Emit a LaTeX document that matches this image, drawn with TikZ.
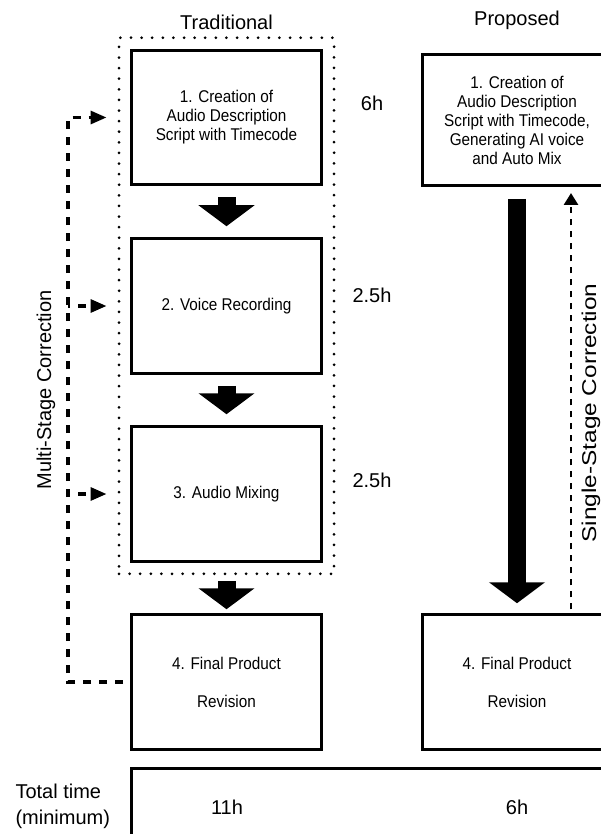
\documentclass[tikz,border=0pt]{standalone}
\usepackage{fontspec}
\setmainfont{Liberation Sans}
\newfontfamily\condfont[FakeStretch=0.9]{Liberation Sans}
\usetikzlibrary{arrows.meta,fit}

\begin{document}
\begin{tikzpicture}[x=1pt, y=-1pt,
    stagebox/.style={draw, line width=3pt, minimum width=190pt,
          minimum height=134.5pt, inner sep=0pt, align=center,
          font=\condfont\fontsize{17}{19}\selectfont},
    label/.style={font=\fontsize{20}{26}\selectfont},
    dotframe/.style={draw, line width=3pt, line cap=round,
          dash pattern=on 0pt off 10.6pt, inner sep=11pt},
    blockarrow/.style={line width=18pt, -{Triangle[length=21pt,width=55pt]}},
    corr/.style={line width=3.2pt, dash pattern=on 8pt off 8pt,
          -{Triangle[length=16pt,width=13pt]}},
    corrsingle/.style={line width=2.8pt, dash pattern=on 6pt off 6pt,
          -{Triangle[length=12pt,width=14pt]}}]
    \useasboundingbox (0,0) rectangle (601,834);

    % column titles
    \node[label] (trad title) at (226.5,22) {Traditional};
    \node[label] (prop title) at (517,20) {Proposed};

    % traditional workflow
    \node[stagebox] (t1) at (226.5,117.5) {1. Creation of\\Audio Description\\Script with Timecode};
    \node[stagebox] (t2) at (226.5,306) {2. Voice Recording};
    \node[stagebox] (t3) at (226.5,494) {3. Audio Mixing};
    \node[stagebox] (t4) at (226.5,682) {4. Final Product\\[19pt]Revision};
    \node[dotframe, fit=(t1)(t3)] (trad) {};

    \node[label] (time1) at (372,103) {6h};
    \node[label] (time2) at (372,295) {2.5h};
    \node[label] (time3) at (372,480) {2.5h};

    \draw[blockarrow, shorten <=11pt, shorten >=11pt] (t1.south) -- (t2.north);
    \draw[blockarrow, shorten <=11pt, shorten >=11pt] (t2.south) -- (t3.north);
    \draw[blockarrow, shorten <=6pt, shorten >=4pt] (trad.south) -- (t4.north);

    % proposed workflow
    \node[stagebox, minimum height=131pt] (p1) at (517,120)
      {1. Creation of\\Audio Description\\Script with Timecode,\\Generating AI voice\\and Auto Mix};
    \node[stagebox] (p4) at (517,682) {4. Final Product\\[19pt]Revision};
    \draw[blockarrow, shorten <=12pt, shorten >=10pt] (p1.south) -- (p4.north);

    % correction loops
    \coordinate (bus) at (68,117.5);
    \coordinate (single) at (571,400);
    \draw[corr, shorten <=7pt, shorten >=11pt] (t4.west) -| (bus) -- (bus -| trad.west);
    \draw[corr, dash phase=6pt, shorten >=11pt] (bus |- t2.west) -- (trad.west |- t2.west);
    \draw[corr, dash phase=6pt, shorten >=11pt] (bus |- t3.west) -- (trad.west |- t3.west);
    \draw[corrsingle, shorten <=4pt, shorten >=6pt] (p4.north -| single) -- (p1.south -| single);

    \node[label, rotate=90] (multi) at (46,390) {Multi-Stage Correction};
    \node[label, rotate=90, xscale=1.22] (singlelabel) at (591,413) {Single-Stage Correction};

    % totals
    \node[draw, line width=3pt, anchor=north west, minimum width=520pt,
          minimum height=100pt] (total) at (130,767) {};
    \node[label, align=left, anchor=west] (total title) at (12,806) {Total time\\(minimum)};
    \node[label] (total trad) at (227,807) {11h};
    \node[label] (total prop) at (517,807) {6h};
  \end{tikzpicture}
\end{document}
